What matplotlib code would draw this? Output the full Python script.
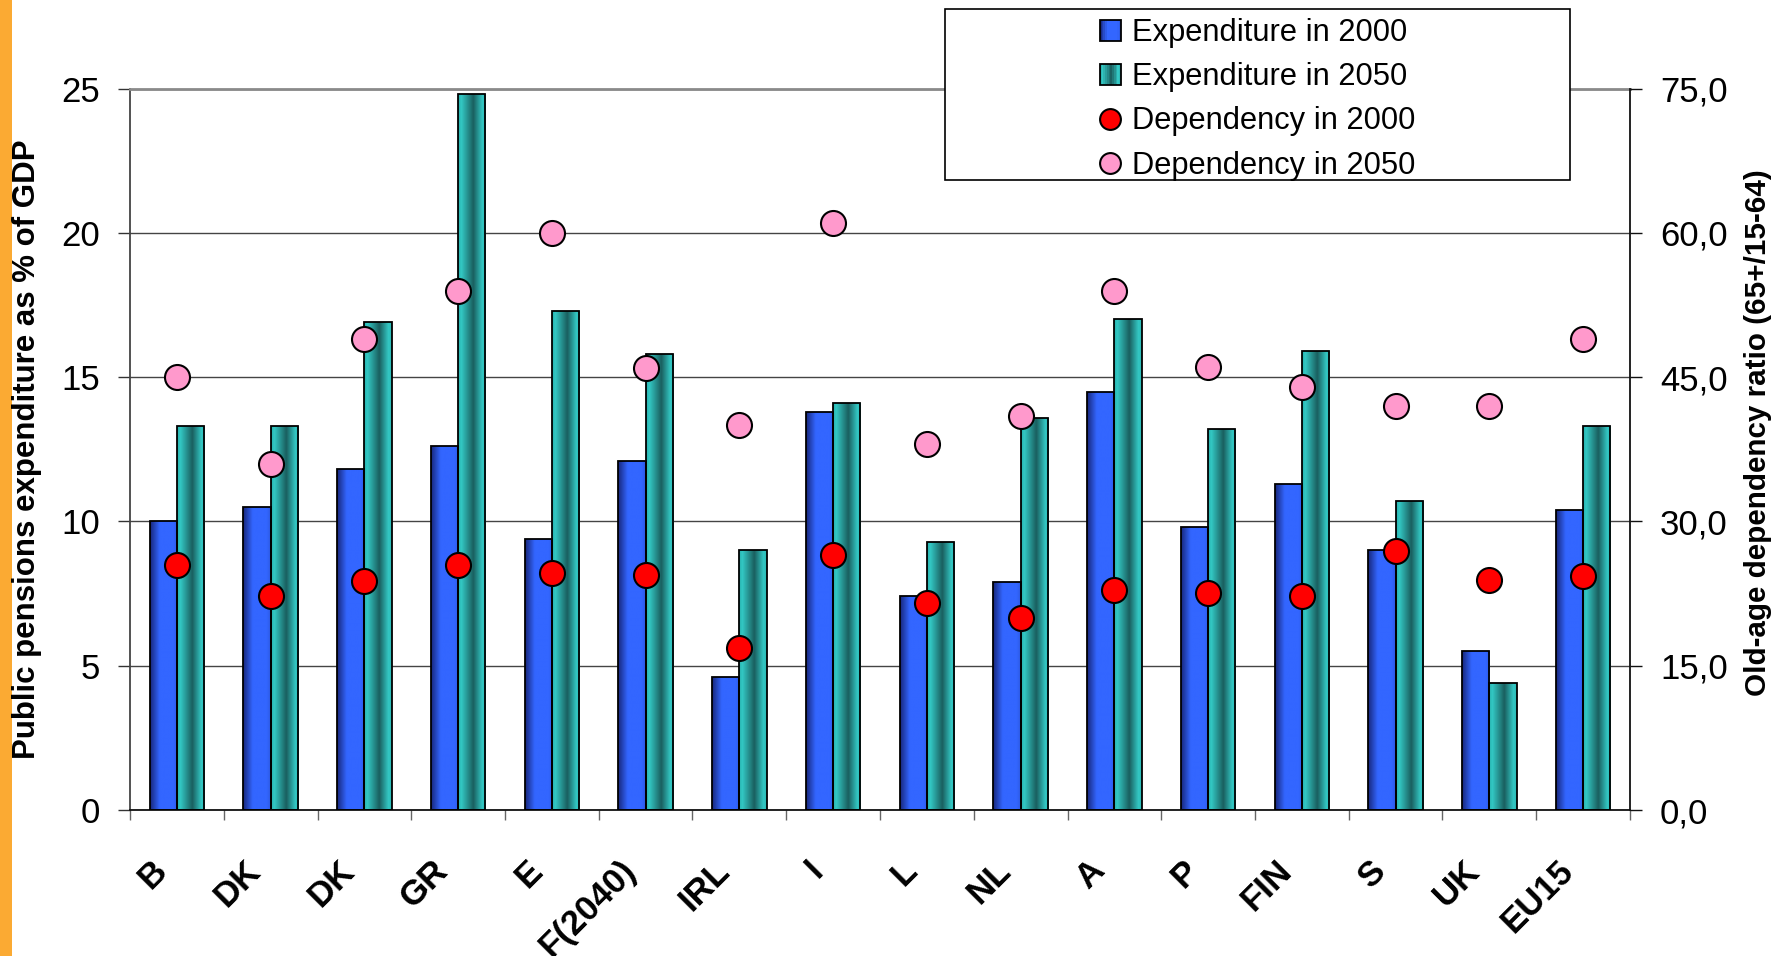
import numpy as np
import matplotlib
matplotlib.use("Agg")
import matplotlib.pyplot as plt
from matplotlib.colors import LinearSegmentedColormap
from matplotlib.patches import Rectangle
from matplotlib.lines import Line2D
from matplotlib.legend_handler import HandlerBase
from matplotlib.transforms import ScaledTranslation

# ---- data -------------------------------------------------------------
countries = ["B", "DK", "DK", "GR", "E", "F(2040)", "IRL", "I", "L", "NL",
             "A", "P", "FIN", "S", "UK", "EU15"]
expenditure_2000 = [10.0, 10.5, 11.8, 12.6, 9.4, 12.1, 4.6, 13.8, 7.4, 7.9,
                    14.5, 9.8, 11.3, 9.0, 5.5, 10.4]
expenditure_2050 = [13.3, 13.3, 16.9, 24.8, 17.3, 15.8, 9.0, 14.1, 9.3, 13.6,
                    17.0, 13.2, 15.9, 10.7, 4.4, 13.3]
dependency_2000 = [25.5, 22.2, 23.8, 25.5, 24.6, 24.4, 16.8, 26.5, 21.5, 20.0,
                   22.9, 22.6, 22.2, 26.9, 23.9, 24.3]
dependency_2050 = [45.0, 36.0, 49.0, 54.0, 60.0, 45.9, 40.0, 61.0, 38.0, 41.0,
                   54.0, 46.0, 44.0, 42.0, 42.0, 49.0]
left_ticks = [0, 5, 10, 15, 20, 25]
right_ticks = [0, 15, 30, 45, 60, 75]
series_labels = ["Expenditure in 2000", "Expenditure in 2050",
                 "Dependency in 2000", "Dependency in 2050"]

# ---- styling ----------------------------------------------------------
W, H = 1779, 956
FONT = "Liberation Sans"
blue_cmap = LinearSegmentedColormap.from_list(
    "blue_bar", [(0.0, "#17267A"), (0.35, "#3366FF"), (0.85, "#3366FF"), (1.0, "#2C58E0")])
teal_cmap = LinearSegmentedColormap.from_list(
    "teal_bar", [(0.0, "#27B0AC"), (0.12, "#33C8C4"), (0.55, "#1A5F5F"),
                 (0.88, "#33C8C4"), (1.0, "#2BB8B4")])

fig = plt.figure(figsize=(W / 100, H / 100), dpi=100)
fig.patch.set_facecolor("white")

# orange strip along the left edge
fig.add_artist(Rectangle((0, 0), 12 / W, 1, transform=fig.transFigure,
                         facecolor="#FBAA33", edgecolor="none", zorder=0))

ax = fig.add_axes([130 / W, 146 / H, 1500 / W, 721.5 / H])
n = len(countries)
centers = np.arange(n) + 0.5
bw = 0.29


def gradient_bars(x, heights, cmap):
    bars = ax.bar(x, heights, width=bw, align="edge", facecolor="none",
                  edgecolor="black", linewidth=1.3, zorder=3)
    grad = np.linspace(0, 1, 256).reshape(1, -1)
    for r in bars:
        x0, w, h = r.get_x(), r.get_width(), r.get_height()
        im = ax.imshow(grad, cmap=cmap, extent=(x0, x0 + w, 0, h), aspect="auto",
                       interpolation="bilinear", zorder=2)
        im.set_clip_path(r)
    return bars


gradient_bars(centers - bw, expenditure_2000, blue_cmap)
gradient_bars(centers, expenditure_2050, teal_cmap)

ax.set_xlim(0, n)
ax.set_ylim(left_ticks[0], left_ticks[-1])
ax.set_yticks(left_ticks)
ax.set_yticklabels([str(t) for t in left_ticks], fontfamily=FONT, fontsize=25)
ax.yaxis.grid(True, color="#444444", linewidth=1.0)
ax.set_axisbelow(True)
ax.tick_params(axis="y", direction="out", length=8.6, width=1.0, pad=13, color="#333333")

ax.set_xticks(centers)
ax.set_xticklabels(countries, fontfamily=FONT, fontsize=25, fontweight="bold",
                   rotation=45, ha="right", va="center", rotation_mode="anchor")
ax.tick_params(axis="x", which="major", length=0, pad=40)
shift = ScaledTranslation(-15 / 100, 0, fig.dpi_scale_trans)
for lbl in ax.get_xticklabels():
    lbl.set_transform(lbl.get_transform() + shift)
ax.set_xticks(np.arange(n + 1), minor=True)
ax.tick_params(axis="x", which="minor", direction="out", length=7, width=1.0, color="#666666")

ax.spines["top"].set_color("#8A8A8A")
ax.spines["top"].set_linewidth(2.0)
ax.spines["left"].set_color("#444444")
ax.spines["left"].set_linewidth(1.3)
ax.spines["bottom"].set_color("#111111")
ax.spines["bottom"].set_linewidth(1.3)
ax.spines["right"].set_visible(False)

ax2 = ax.twinx()
ax2.set_ylim(right_ticks[0], right_ticks[-1])
ax2.set_yticks(right_ticks)
ax2.set_yticklabels([f"{t:.1f}".replace(".", ",") for t in right_ticks],
                    fontfamily=FONT, fontsize=25)
ax2.tick_params(axis="y", direction="out", length=8.6, width=1.0, pad=13, color="#111111")
for s in ("top", "left", "bottom"):
    ax2.spines[s].set_visible(False)
ax2.spines["right"].set_color("#111111")
ax2.spines["right"].set_linewidth(1.3)

ax2.plot(centers, dependency_2000, linestyle="none", marker="o", markersize=18,
         markerfacecolor="#FF0000", markeredgecolor="black", markeredgewidth=1.5,
         zorder=5, clip_on=False)
ax2.plot(centers, dependency_2050, linestyle="none", marker="o", markersize=18,
         markerfacecolor="#FF99CC", markeredgecolor="black", markeredgewidth=1.5,
         zorder=5, clip_on=False)

# axis titles
fig.text(27 / W, 1 - 449 / H, "Public pensions expenditure as % of GDP",
         rotation=90, ha="center", va="center", fontfamily=FONT,
         fontsize=22.5, fontweight="bold")
fig.text(1758 / W, 1 - 433 / H, "Old-age dependency ratio (65+/15-64)",
         rotation=90, ha="center", va="center", fontfamily=FONT,
         fontsize=21.3, fontweight="bold")


# ---- legend -----------------------------------------------------------
class GradientSquare(HandlerBase):
    def __init__(self, cmap):
        super().__init__()
        self.cmap = cmap

    def create_artists(self, legend, orig_handle, xdescent, ydescent,
                       width, height, fontsize, trans):
        side = height
        x0 = -xdescent + (width - side) / 2
        y0 = -ydescent
        arts = []
        k = 12
        for i in range(k):
            c = self.cmap((i + 0.5) / k)
            arts.append(Rectangle((x0 + side * i / k, y0), side / k + 0.3, side,
                                  facecolor=c, edgecolor="none", transform=trans))
        arts.append(Rectangle((x0, y0), side, side, facecolor="none",
                              edgecolor="black", linewidth=1.3, transform=trans))
        return arts


h_blue = Rectangle((0, 0), 1, 1)
h_teal = Rectangle((0, 0), 1, 1)
h_red = Line2D([], [], linestyle="none", marker="o", markersize=15,
               markerfacecolor="#FF0000", markeredgecolor="black", markeredgewidth=1.5)
h_pink = Line2D([], [], linestyle="none", marker="o", markersize=15,
                markerfacecolor="#FF99CC", markeredgecolor="black", markeredgewidth=1.5)

fig.add_artist(Rectangle((945 / W, 1 - 180 / H), 625 / W, 171 / H,
                         transform=fig.transFigure, facecolor="white",
                         edgecolor="black", linewidth=1.2, zorder=5))
leg = fig.legend([h_blue, h_teal, h_red, h_pink], series_labels,
                 loc="upper left", bbox_to_anchor=(1095 / W, 1 - 18 / H),
                 frameon=False, borderpad=0, borderaxespad=0,
                 handlelength=1.0, handleheight=0.68, handletextpad=0.2,
                 labelspacing=0.46, numpoints=1,
                 prop={"family": FONT, "size": 22.2},
                 handler_map={h_blue: GradientSquare(blue_cmap),
                              h_teal: GradientSquare(teal_cmap)})
leg.set_zorder(6)

fig.savefig("out.png", dpi=100)
